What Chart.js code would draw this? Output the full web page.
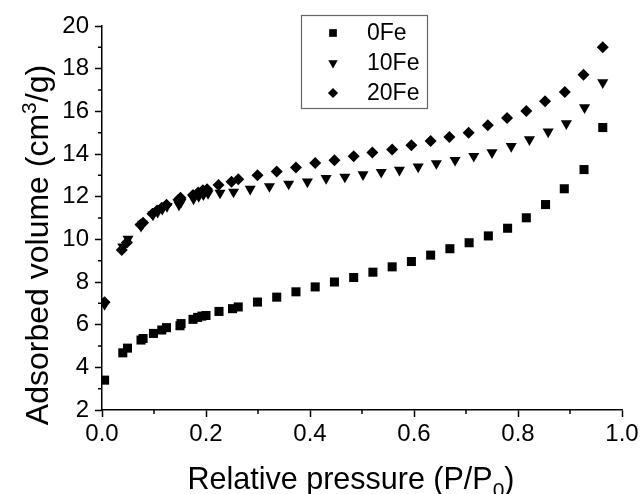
<!DOCTYPE html>
<html>
<head>
<meta charset="utf-8">
<script src="https://cdn.jsdelivr.net/npm/chart.js@4.4.1/dist/chart.umd.min.js"></script>
<style>
  html, body { margin: 0; padding: 0; background: #fff; }
  #wrap { width: 642px; height: 494px; position: relative; }
</style>
</head>
<body>
<div id="wrap"><canvas id="isotherm"></canvas></div>
<script>
// N2 adsorption isotherms, relative pressure vs adsorbed volume
const seriesNames = ["0Fe", "10Fe", "20Fe"];

const p0Fe = [0.005, 0.040, 0.049, 0.075, 0.079, 0.099, 0.115, 0.124, 0.150, 0.152,
  0.175, 0.184, 0.192, 0.200, 0.225, 0.251, 0.262, 0.299, 0.336, 0.373, 0.410,
  0.447, 0.484, 0.521, 0.558, 0.595, 0.632, 0.669, 0.706, 0.743, 0.780, 0.816,
  0.853, 0.889, 0.927, 0.963];
const v0Fe = [3.40, 4.68, 4.90, 5.28, 5.35, 5.59, 5.75, 5.86, 5.95, 6.05,
  6.25, 6.34, 6.40, 6.43, 6.62, 6.75, 6.83, 7.06, 7.29, 7.54, 7.77,
  8.00, 8.21, 8.46, 8.71, 8.96, 9.26, 9.56, 9.84, 10.16, 10.52, 11.01,
  11.63, 12.37, 13.27, 15.24];

const p10Fe = [0.005, 0.040, 0.050, 0.075, 0.078, 0.098, 0.107, 0.116, 0.125, 0.148,
  0.152, 0.176, 0.186, 0.195, 0.204, 0.227, 0.253, 0.285, 0.322, 0.359, 0.395,
  0.431, 0.467, 0.502, 0.537, 0.572, 0.608, 0.643, 0.679, 0.715, 0.750, 0.787,
  0.822, 0.858, 0.893, 0.928, 0.963];
const v10Fe = [6.95, 9.65, 10.02, 10.62, 10.72, 11.15, 11.28, 11.42, 11.55, 11.62,
  11.75, 11.90, 12.02, 12.10, 12.15, 12.18, 12.22, 12.36, 12.48, 12.60, 12.70,
  12.86, 12.93, 13.04, 13.15, 13.25, 13.40, 13.56, 13.71, 13.90, 14.07, 14.36,
  14.68, 15.04, 15.43, 16.18, 17.35];

const p20Fe = [0.005, 0.038, 0.048, 0.074, 0.079, 0.097, 0.106, 0.115, 0.124, 0.147,
  0.151, 0.175, 0.185, 0.194, 0.202, 0.224, 0.249, 0.262, 0.299, 0.336, 0.373,
  0.410, 0.447, 0.484, 0.520, 0.558, 0.595, 0.632, 0.668, 0.705, 0.742, 0.779,
  0.816, 0.852, 0.890, 0.926, 0.963];
const v20Fe = [7.05, 9.50, 9.85, 10.68, 10.78, 11.20, 11.35, 11.48, 11.62, 11.85,
  11.95, 12.08, 12.20, 12.30, 12.35, 12.55, 12.70, 12.82, 13.00, 13.18, 13.37,
  13.58, 13.71, 13.90, 14.07, 14.21, 14.41, 14.61, 14.80, 15.00, 15.35, 15.69,
  16.02, 16.47, 16.91, 17.72, 19.00];

const xTicks = [0, 0.2, 0.4, 0.6, 0.8, 1.0];
const xTickLabels = ["0.0", "0.2", "0.4", "0.6", "0.8", "1.0"];
const xMinorTicks = [0.1, 0.3, 0.5, 0.7, 0.9];
const yTicks = [2, 4, 6, 8, 10, 12, 14, 16, 18, 20];
const yTickLabels = ["2", "4", "6", "8", "10", "12", "14", "16", "18", "20"];
const yMinorTicks = [3, 5, 7, 9, 11, 13, 15, 17, 19];

const FONT = "'Liberation Sans', Arial, Helvetica, sans-serif";

function zip(xs, ys) {
  return xs.map((x, i) => ({ x: x, y: ys[i] }));
}

// draws a run of text pieces (size, baseline shift) centred on cx
function drawRich(ctx, parts, cx, y) {
  let total = 0;
  const widths = parts.map((p) => {
    ctx.font = p[1] + "px " + FONT;
    const w = ctx.measureText(p[0]).width;
    total += w;
    return w;
  });
  let x = cx - total / 2;
  parts.forEach((p, i) => {
    ctx.font = p[1] + "px " + FONT;
    ctx.fillText(p[0], x, y + p[2]);
    x += widths[i];
  });
}

const minorTicks = {
  id: "minorTicks",
  afterDraw(chart) {
    const { ctx, scales } = chart;
    const xs = scales.x, ys = scales.y;
    ctx.save();
    ctx.strokeStyle = "#000";
    ctx.lineWidth = 1.5;
    ctx.beginPath();
    xMinorTicks.forEach((v) => {
      const px = xs.getPixelForValue(v);
      ctx.moveTo(px, xs.top);
      ctx.lineTo(px, xs.top + 4);
    });
    yMinorTicks.forEach((v) => {
      const py = ys.getPixelForValue(v);
      ctx.moveTo(ys.right, py);
      ctx.lineTo(ys.right - 4, py);
    });
    ctx.stroke();
    ctx.restore();
  },
};

const axisTitles = {
  id: "axisTitles",
  afterDraw(chart) {
    const { ctx, chartArea } = chart;
    ctx.save();
    ctx.fillStyle = "#000";
    ctx.textBaseline = "alphabetic";
    ctx.textAlign = "left";
    const cx = (chartArea.left + chartArea.right) / 2 - 11;
    drawRich(ctx, [["Relative pressure (P/P", 30.5, 0], ["0", 21, 8], [")", 30.5, 0]],
      cx, chartArea.bottom + 79);

    const cy = (chartArea.top + chartArea.bottom) / 2 + 27;
    ctx.translate(chartArea.left - 54, cy);
    ctx.rotate(-Math.PI / 2);
    drawRich(ctx, [["Adsorbed volume (cm", 32, 0], ["3", 21, -12], ["/g)", 32, 0]], 0, 0);
    ctx.restore();
  },
};

function marker(ctx, style, rotation, radius, x, y) {
  if (Chart.helpers && Chart.helpers.drawPoint) {
    Chart.helpers.drawPoint(ctx, { pointStyle: style, rotation: rotation, radius: radius, borderWidth: 0 }, x, y);
  }
}

const boxLegend = {
  id: "boxLegend",
  afterDraw(chart) {
    const { ctx, chartArea } = chart;
    const w = 126, h = 93;
    const left = (chartArea.left + chartArea.right) / 2 - 61;
    const top = chartArea.top - 11;
    ctx.save();
    ctx.fillStyle = "#fff";
    ctx.fillRect(left, top, w, h);
    ctx.strokeStyle = "#666";
    ctx.lineWidth = 1.2;
    ctx.strokeRect(left + 0.5, top + 0.5, w, h);
    chart.data.datasets.forEach((ds, i) => {
      const y = top + 18 + i * 30;
      ctx.fillStyle = "#000";
      marker(ctx, ds.pointStyle, ds.pointRotation || 0, ds.pointRadius * 0.85, left + 32, y);
      ctx.font = "23px " + FONT;
      ctx.textBaseline = "middle";
      ctx.textAlign = "left";
      ctx.fillText(ds.label, left + 66, y + 1);
    });
    ctx.restore();
  },
};

const ctx = document.getElementById("isotherm");

new Chart(ctx, {
  type: "scatter",
  data: {
    datasets: [
      {
        label: seriesNames[0],
        data: zip(p0Fe, v0Fe),
        pointStyle: "rect",
        pointRadius: 6.4,
        backgroundColor: "#000",
        borderWidth: 0,
      },
      {
        label: seriesNames[1],
        data: zip(p10Fe, v10Fe),
        pointStyle: "triangle",
        pointRotation: 180,
        pointRadius: 6.4,
        backgroundColor: "#000",
        borderWidth: 0,
      },
      {
        label: seriesNames[2],
        data: zip(p20Fe, v20Fe),
        pointStyle: "rectRot",
        pointRadius: 6,
        backgroundColor: "#000",
        borderWidth: 0,
      },
    ],
  },
  options: {
    responsive: true,
    maintainAspectRatio: false,
    animation: false,
    events: [],
    layout: {
      padding: { top: 26, right: 20, bottom: 0, left: 0 },
    },
    plugins: {
      legend: { display: false },
      tooltip: { enabled: false },
    },
    scales: {
      x: {
        type: "linear",
        min: 0,
        max: 1,
        afterBuildTicks: (scale) => {
          scale.ticks = xTicks.map((v) => ({ value: v }));
        },
        afterFit: (scale) => {
          scale.height = 84;
        },
        ticks: {
          callback: (v) => xTickLabels[xTicks.indexOf(v)],
          color: "#000",
          font: { size: 24, family: FONT },
          padding: 3,
          maxRotation: 0,
        },
        grid: {
          drawOnChartArea: false,
          tickLength: 7,
          tickColor: "#000",
          tickWidth: 1.5,
        },
        border: { color: "#000", width: 1.5 },
      },
      y: {
        type: "linear",
        min: 2,
        max: 20,
        afterBuildTicks: (scale) => {
          scale.ticks = yTicks.map((v) => ({ value: v }));
        },
        afterFit: (scale) => {
          scale.width = 102;
        },
        ticks: {
          callback: (v) => yTickLabels[yTicks.indexOf(v)],
          color: "#000",
          font: { size: 24, family: FONT },
          padding: 6,
        },
        grid: {
          drawOnChartArea: false,
          tickLength: 7,
          tickColor: "#000",
          tickWidth: 1.5,
        },
        border: { color: "#000", width: 1.5 },
      },
    },
  },
  plugins: [minorTicks, axisTitles, boxLegend],
});
</script>
</body>
</html>
